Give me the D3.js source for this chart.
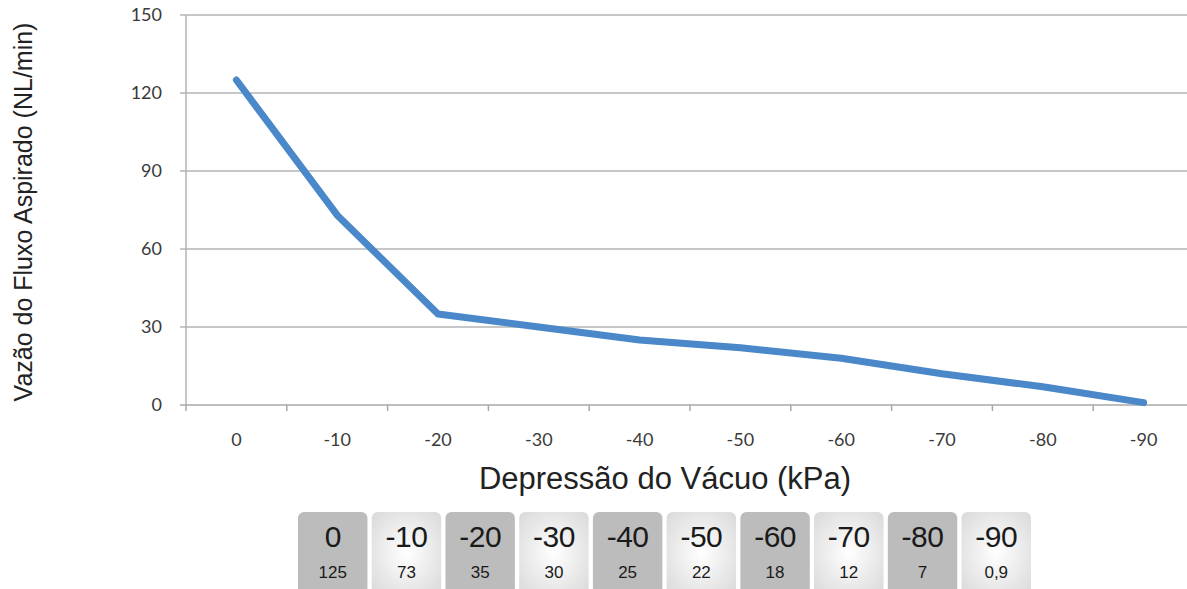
<!DOCTYPE html>
<html>
<head>
<meta charset="utf-8">
<script src="https://cdn.jsdelivr.net/npm/d3@7"></script>
<style>
  body { margin: 0; background: #fff; }
  svg { display: block; }
</style>
</head>
<body>
<div id="chart"></div>
<script>
// pressure categories (kPa) and aspirated flow (NL/min)
const pressures = ["0", "-10", "-20", "-30", "-40", "-50", "-60", "-70", "-80", "-90"];
const flows = [125, 73, 35, 30, 25, 22, 18, 12, 7, 0.9];
const flowLabels = ["125", "73", "35", "30", "25", "22", "18", "12", "7", "0,9"];
const yTicks = [0, 30, 60, 90, 120, 150];

const width = 1187, height = 589;
const plot = { left: 186, top: 15, bottom: 405 };

const svg = d3.select("#chart").append("svg")
    .attr("width", width)
    .attr("height", height);

const x = d3.scaleBand()
    .domain(pressures)
    .range([plot.left, plot.left + 100.8 * pressures.length]);

const y = d3.scaleLinear()
    .domain([0, 150])
    .range([plot.bottom, plot.top]);

// horizontal gridlines
svg.append("g")
    .selectAll("line")
    .data(yTicks.filter(d => d > 0))
    .enter()
    .append("line")
    .attr("x1", plot.left - 6)
    .attr("x2", width)
    .attr("y1", d => y(d))
    .attr("y2", d => y(d))
    .attr("stroke", "#b4b4b4")
    .attr("stroke-width", 1.5);

// y axis line + tick labels
svg.append("line")
    .attr("x1", plot.left).attr("x2", plot.left)
    .attr("y1", plot.top).attr("y2", plot.bottom)
    .attr("stroke", "#b4b4b4").attr("stroke-width", 1.5);

svg.append("g")
    .selectAll("text")
    .data(yTicks)
    .enter()
    .append("text")
    .attr("x", 162)
    .attr("y", d => y(d) + 6)
    .attr("text-anchor", "end")
    .attr("font-family", "Lato, 'Open Sans', sans-serif")
    .attr("font-size", 18)
    .attr("fill", "#3a3a3a")
    .text(d => d);

// x axis line, ticks at band edges, labels
svg.append("line")
    .attr("x1", plot.left - 6).attr("x2", width)
    .attr("y1", plot.bottom).attr("y2", plot.bottom)
    .attr("stroke", "#a8a8a8").attr("stroke-width", 1.5);

svg.append("g")
    .selectAll("line")
    .data(pressures)
    .enter()
    .append("line")
    .attr("x1", d => x(d)).attr("x2", d => x(d))
    .attr("y1", plot.bottom).attr("y2", plot.bottom + 6)
    .attr("stroke", "#a8a8a8").attr("stroke-width", 1.5);

svg.append("g")
    .selectAll("text")
    .data(pressures)
    .enter()
    .append("text")
    .attr("x", d => x(d) + x.bandwidth() / 2)
    .attr("y", 446)
    .attr("text-anchor", "middle")
    .attr("font-family", "Lato, 'Open Sans', sans-serif")
    .attr("font-size", 18)
    .attr("fill", "#3a3a3a")
    .text(d => d);

// the flow line
const line = d3.line()
    .x((d, i) => x(pressures[i]) + x.bandwidth() / 2)
    .y(d => y(d));

svg.append("path")
    .datum(flows)
    .attr("d", line)
    .attr("fill", "none")
    .attr("stroke", "#4a88c9")
    .attr("stroke-width", 7)
    .attr("stroke-linejoin", "round")
    .attr("stroke-linecap", "round");

// axis titles
svg.append("text")
    .attr("transform", "translate(32,212) rotate(-90)")
    .attr("text-anchor", "middle")
    .attr("font-family", "'Liberation Sans', Arial, sans-serif")
    .attr("font-size", 25)
    .attr("fill", "#222")
    .text("Vazão do Fluxo Aspirado (NL/min)");

svg.append("text")
    .attr("x", 665)
    .attr("y", 489)
    .attr("text-anchor", "middle")
    .attr("font-family", "'Liberation Sans', Arial, sans-serif")
    .attr("font-size", 31)
    .attr("fill", "#222")
    .text("Depressão do Vácuo (kPa)");

// value table below the chart
const defs = svg.append("defs");
const grad = defs.append("radialGradient")
    .attr("id", "lightBox")
    .attr("cx", "50%").attr("cy", "50%").attr("r", "65%");
grad.append("stop").attr("offset", "0%").attr("stop-color", "#ffffff");
grad.append("stop").attr("offset", "100%").attr("stop-color", "#dcdcdc");

const boxes = d3.scaleBand()
    .domain(pressures)
    .range([298, 298 + 73.3 * pressures.length])
    .paddingInner(0.058);

const cells = svg.append("g")
    .selectAll("g")
    .data(pressures)
    .enter()
    .append("g")
    .attr("transform", d => `translate(${boxes(d)},512)`);

cells.append("rect")
    .attr("width", boxes.bandwidth())
    .attr("height", 82)
    .attr("rx", 6)
    .attr("fill", (d, i) => i % 2 === 0 ? "#bcbcbc" : "url(#lightBox)");

cells.append("text")
    .attr("x", boxes.bandwidth() / 2)
    .attr("y", 35)
    .attr("text-anchor", "middle")
    .attr("font-family", "'Liberation Sans', Arial, sans-serif")
    .attr("font-size", 30)
    .attr("letter-spacing", -0.5)
    .attr("fill", "#1a1a1a")
    .text(d => d);

cells.append("text")
    .attr("x", boxes.bandwidth() / 2)
    .attr("y", 66)
    .attr("text-anchor", "middle")
    .attr("font-family", "'Liberation Sans', Arial, sans-serif")
    .attr("font-size", 17)
    .attr("fill", "#1a1a1a")
    .text((d, i) => flowLabels[i]);
</script>
</body>
</html>
